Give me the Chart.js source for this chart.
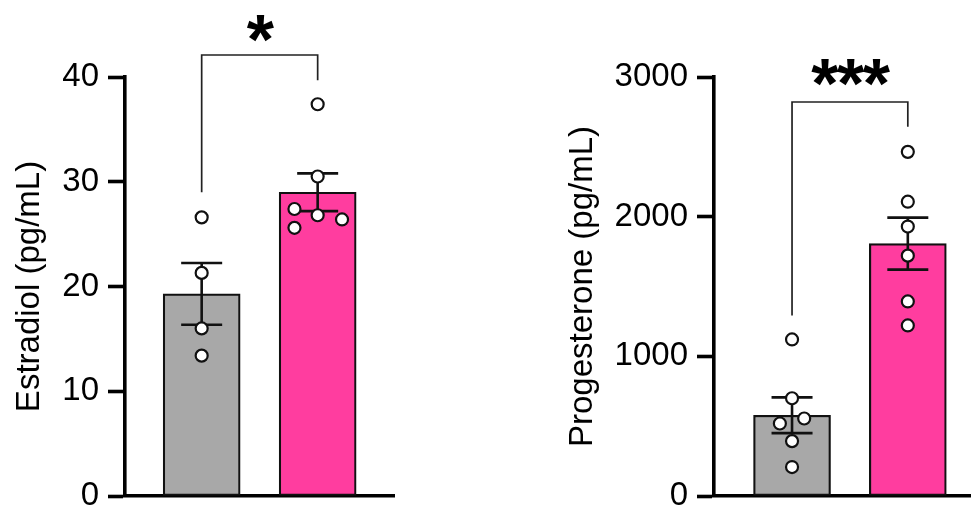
<!DOCTYPE html>
<html>
<head>
<meta charset="utf-8">
<script src="https://cdn.jsdelivr.net/npm/chart.js@4.4.1/dist/chart.umd.min.js"></script>
<style>
    body { margin: 0; background: #fff; width: 979px; height: 506px; overflow: hidden; }
    canvas { position: absolute; top: 0; }
    #estradiolChart { left: 0; }
    #progesteroneChart { left: 560px; }
</style>
</head>
<body>
<canvas id="estradiolChart" width="403" height="506"></canvas>
<canvas id="progesteroneChart" width="419" height="506"></canvas>
<script>
// group positions on the x axis (1 = grey group, 2 = pink group)
const groupX = [1, 2];
const barColors = ['#a8a8a8', '#ff3d9f'];

// Estradiol panel
const estradiolMean = [19.3, 29.0];
const estradiolSem = [2.95, 1.8];
const estradiolGrayY = [26.6, 21.3, 16.0, 13.4];
const estradiolGrayX = [1, 1, 1, 1];
const estradiolPinkY = [37.4, 30.5, 27.4, 26.8, 26.4, 25.6];
const estradiolPinkX = [2, 2, 1.8, 2, 2.21, 1.8];
const estradiolTicks = [0, 10, 20, 30, 40];
const estradiolBracket = [42.1, 29.0, 39.7]; // bar height, left leg end, right leg end
const estradiolStarY = 44.6;

// Progesterone panel
const progesteroneMean = [578, 1807];
const progesteroneSem = [128, 186];
const progesteroneGrayY = [1121, 700, 519, 555, 393, 207];
const progesteroneGrayX = [1, 1, 0.895, 1.105, 1, 1];
const progesteronePinkY = [2464, 2107, 1929, 1721, 1393, 1221];
const progesteronePinkX = [2, 2, 2, 2, 2, 2];
const progesteroneTicks = [0, 1000, 2000, 3000];
const progesteroneBracket = [2821, 1293, 2643];
const progesteroneStarY = 3029;

Chart.defaults.font.family = "'Liberation Sans', Arial, sans-serif";
Chart.defaults.color = '#000';

function toPoints(xs, ys)
{
    return xs.map((x, i) => ({ x: x, y: ys[i] }));
}

// error bars (under the dots), bracket and stars
function makeExtras(p)
{
    return {
        id: 'extras',
        afterDatasetDraw(chart, args)
        {
            if (args.index !== 0) return;
            const { ctx, scales: { x, y } } = chart;
            ctx.save();
            ctx.strokeStyle = '#111';
            ctx.lineWidth = 2.6;
            p.mean.forEach((m, i) =>
            {
                const px = x.getPixelForValue(groupX[i]);
                const top = y.getPixelForValue(m + p.sem[i]);
                const bot = y.getPixelForValue(m - p.sem[i]);
                ctx.beginPath();
                ctx.moveTo(px, top);
                ctx.lineTo(px, bot);
                ctx.moveTo(px - 20.5, top);
                ctx.lineTo(px + 20.5, top);
                ctx.moveTo(px - 20.5, bot);
                ctx.lineTo(px + 20.5, bot);
                ctx.stroke();
            });
            ctx.restore();
        },
        afterDraw(chart)
        {
            const { ctx, scales: { x, y } } = chart;
            const x1 = x.getPixelForValue(groupX[0]);
            const x2 = x.getPixelForValue(groupX[1]);
            const yTop = y.getPixelForValue(p.bracket[0]);
            ctx.save();
            ctx.strokeStyle = '#222';
            ctx.lineWidth = 1.7;
            ctx.beginPath();
            ctx.moveTo(x1, y.getPixelForValue(p.bracket[1]));
            ctx.lineTo(x1, yTop);
            ctx.lineTo(x2, yTop);
            ctx.lineTo(x2, y.getPixelForValue(p.bracket[2]));
            ctx.stroke();

            ctx.fillStyle = '#000';
            ctx.font = "bold 70px 'Liberation Sans', Arial, sans-serif";
            ctx.letterSpacing = '-1.5px';
            ctx.textAlign = 'center';
            ctx.textBaseline = 'alphabetic';
            const m = ctx.measureText(p.stars);
            const cy = y.getPixelForValue(p.starY);
            ctx.fillText(p.stars, (x1 + x2) / 2, cy + (m.actualBoundingBoxAscent - m.actualBoundingBoxDescent) / 2);
            ctx.restore();
        }
    };
}

function drawPanel(canvasId, p)
{
    const dotStyle = {
        type: 'scatter',
        pointRadius: 6,
        pointBorderWidth: 2.2,
        pointBackgroundColor: '#fff',
        pointBorderColor: '#111',
        order: 0
    };

    new Chart(document.getElementById(canvasId), {
        type: 'bar',
        data: {
            datasets: [
                {
                    type: 'bar',
                    data: toPoints(groupX, p.mean),
                    backgroundColor: barColors,
                    borderColor: '#111',
                    borderWidth: 2.2,
                    borderSkipped: false,
                    barThickness: 77,
                    order: 2
                },
                Object.assign({ data: toPoints(p.grayX, p.grayY) }, dotStyle),
                Object.assign({ data: toPoints(p.pinkX, p.pinkY) }, dotStyle)
            ]
        },
        options: {
            responsive: false,
            animation: false,
            layout: { padding: { top: 77, left: 0, right: 0, bottom: 0 } },
            plugins: { legend: { display: false }, tooltip: { enabled: false } },
            scales: {
                x: {
                    type: 'linear',
                    min: p.xMin,
                    max: p.xMax,
                    offset: false,
                    ticks: { display: false },
                    grid: { display: false, offset: false },
                    border: { display: true, width: 3.6, color: '#000' },
                    afterFit: (s) => { s.height = 10; }
                },
                y: {
                    min: 0,
                    max: p.ticks[p.ticks.length - 1],
                    afterBuildTicks: (s) => { s.ticks = p.ticks.map(v => ({ value: v })); },
                    ticks: {
                        font: { size: 33 },
                        color: '#000',
                        padding: 9,
                        callback: (v) => String(v)
                    },
                    grid: { display: true, drawOnChartArea: false, drawTicks: true, tickLength: 17, tickWidth: 3.6, tickColor: '#000' },
                    border: { display: true, width: 3.6, color: '#000' },
                    title: {
                        display: true,
                        text: p.label,
                        color: '#000',
                        font: { size: 33 },
                        padding: { top: p.titlePad, bottom: 0 }
                    },
                    afterFit: (s) =>
                    {
                        s.width = p.axisWidth;
                        s.paddingTop = 0;
                        s.paddingBottom = 0;
                    }
                }
            }
        },
        plugins: [makeExtras(p)]
    });
}

drawPanel('estradiolChart', {
    label: 'Estradiol (pg/mL)',
    mean: estradiolMean, sem: estradiolSem,
    grayX: estradiolGrayX, grayY: estradiolGrayY,
    pinkX: estradiolPinkX, pinkY: estradiolPinkY,
    ticks: estradiolTicks,
    bracket: estradiolBracket, stars: '*', starY: estradiolStarY,
    xMin: 0.339, xMax: 2.665,
    axisWidth: 125, titlePad: 10
});

drawPanel('progesteroneChart', {
    label: 'Progesterone (pg/mL)',
    mean: progesteroneMean, sem: progesteroneSem,
    grayX: progesteroneGrayX, grayY: progesteroneGrayY,
    pinkX: progesteronePinkX, pinkY: progesteronePinkY,
    ticks: progesteroneTicks,
    bracket: progesteroneBracket, stars: '***', starY: progesteroneStarY,
    xMin: 0.326, xMax: 2.544,
    axisWidth: 154, titlePad: 3
});
</script>
</body>
</html>
